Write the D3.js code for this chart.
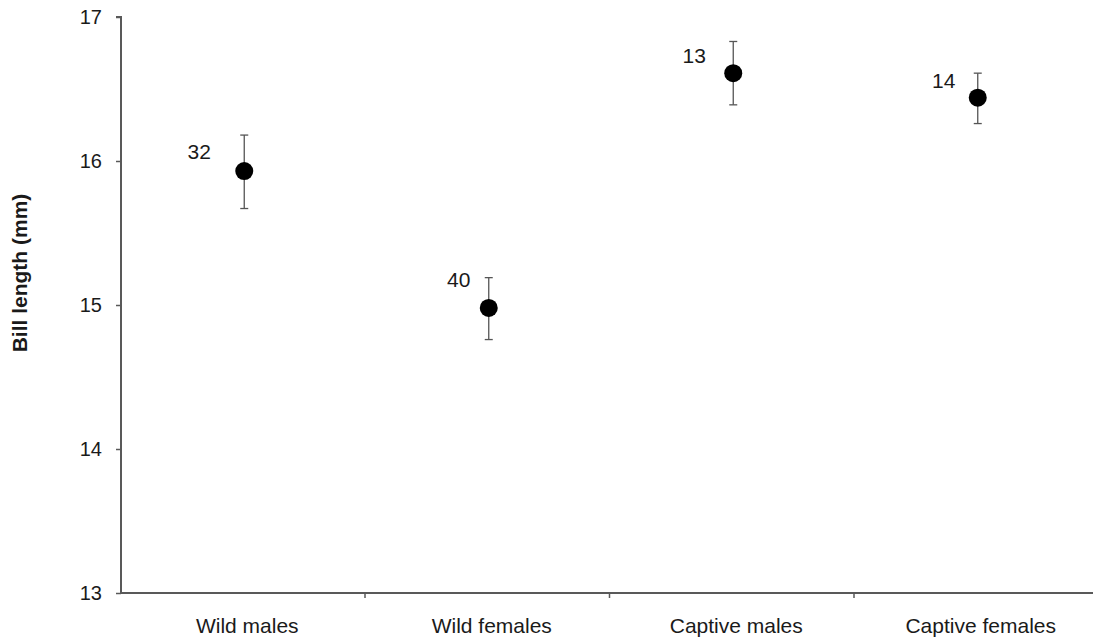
<!DOCTYPE html>
<html>
<head>
<meta charset="utf-8">
<script src="https://cdn.jsdelivr.net/npm/d3@7"></script>
<style>
  body { margin: 0; background: #fff; }
  text { font-family: Arial, "Liberation Sans", sans-serif; fill: #1a1a1a; }
</style>
</head>
<body>
<div id="chart"></div>
<script>
// data
var groups = ["Wild males", "Wild females", "Captive males", "Captive females"];
var means = [15.93, 14.98, 16.61, 16.44];
var upper = [16.18, 15.19, 16.83, 16.61];
var lower = [15.67, 14.76, 16.39, 16.26];
var sampleSizes = [32, 40, 13, 14];
var yTicks = [13, 14, 15, 16, 17];

// hand placed n labels (dx, dy from the point)
var labelNudge = [[-45, -12], [-30, -21], [-39, -10], [-34, -10]];

var width = 1093, height = 641;
var svg = d3.select("#chart").append("svg")
    .attr("width", width).attr("height", height);

var x = d3.scaleBand().domain(groups).range([121, 1099]);
var y = d3.scaleLinear().domain([13, 17]).range([593, 17]);

// y axis
var yAxis = svg.append("g")
    .attr("transform", "translate(121,0)")
    .call(d3.axisLeft(y).tickValues(yTicks).tickSize(5).tickPadding(14).tickFormat(d3.format("d")));
yAxis.select(".domain").attr("stroke", "#595959").attr("stroke-width", 2).attr("d", "M-5,17H0V593");
yAxis.selectAll(".tick line").attr("stroke", "#595959").attr("stroke-width", 1.5);
yAxis.selectAll(".tick text").attr("font-size", 20).attr("fill", "#1a1a1a");

// x axis, ticks between the groups
var xAxis = svg.append("g").attr("transform", "translate(0,593)");
xAxis.append("line")
    .attr("x1", 121).attr("x2", 1099)
    .attr("stroke", "#595959").attr("stroke-width", 2);
xAxis.selectAll("line.sep")
    .data(groups.slice(1))
    .enter().append("line")
    .attr("class", "sep")
    .attr("x1", function (d) { return x(d) - 0.5; })
    .attr("x2", function (d) { return x(d) - 0.5; })
    .attr("y1", 0).attr("y2", 5)
    .attr("stroke", "#595959").attr("stroke-width", 1.5);
xAxis.selectAll("text")
    .data(groups)
    .enter().append("text")
    .attr("x", function (d) { return x(d) + x.bandwidth() / 2 + 4; })
    .attr("y", 40)
    .attr("text-anchor", "middle")
    .attr("font-size", 21)
    .text(function (d) { return d; });

// axis title
svg.append("text")
    .attr("transform", "translate(27,273) rotate(-90)")
    .attr("text-anchor", "middle")
    .attr("font-size", 21)
    .attr("font-weight", "bold")
    .text("Bill length (mm)");

var cx = function (i) { return x(groups[i]) + x.bandwidth() / 2 + 1; };

// error bars
var bars = svg.append("g").selectAll("g")
    .data(means)
    .enter().append("g");
bars.append("line")
    .attr("x1", function (d, i) { return cx(i); })
    .attr("x2", function (d, i) { return cx(i); })
    .attr("y1", function (d, i) { return y(upper[i]); })
    .attr("y2", function (d, i) { return y(lower[i]); })
    .attr("stroke", "#555").attr("stroke-width", 1.3);
[upper, lower].forEach(function (arr) {
    bars.append("line")
        .attr("x1", function (d, i) { return cx(i) - 4; })
        .attr("x2", function (d, i) { return cx(i) + 4; })
        .attr("y1", function (d, i) { return y(arr[i]); })
        .attr("y2", function (d, i) { return y(arr[i]); })
        .attr("stroke", "#555").attr("stroke-width", 1.3);
});

// points
bars.append("circle")
    .attr("cx", function (d, i) { return cx(i); })
    .attr("cy", function (d) { return y(d); })
    .attr("r", 9)
    .attr("fill", "#000");

// sample sizes
bars.append("text")
    .attr("x", function (d, i) { return cx(i) + labelNudge[i][0]; })
    .attr("y", function (d, i) { return y(d) + labelNudge[i][1]; })
    .attr("text-anchor", "middle")
    .attr("font-size", 21)
    .text(function (d, i) { return sampleSizes[i]; });
</script>
</body>
</html>
